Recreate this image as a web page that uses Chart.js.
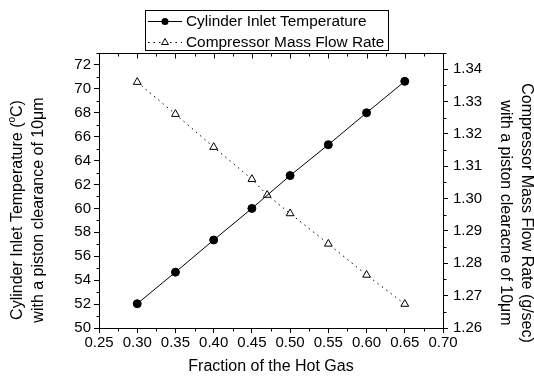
<!DOCTYPE html>
<html lang="en">
<head>
<meta charset="UTF-8" />
<title>Cylinder Inlet Temperature and Compressor Mass Flow Rate</title>
<script src="https://cdn.jsdelivr.net/npm/chart.js"></script>
<style>
  body { margin: 0; padding: 0; background: white; }
  #wrap { width: 534px; height: 381px; }
</style>
</head>
<body>
<div id="wrap"><canvas id="chart" width="534" height="381"></canvas></div>
<script>
  // data
  const fraction = [0.30, 0.35, 0.40, 0.45, 0.50, 0.55, 0.60, 0.65];
  const inletTemp = [52.03, 54.67, 57.36, 60.0, 62.75, 65.33, 68.0, 70.63];

  const flowFraction = [0.30, 0.35, 0.40, 0.45, 0.47, 0.50, 0.55, 0.60, 0.65];
  const massFlow = [1.3360, 1.3261, 1.3159, 1.3060, 1.3011, 1.2954, 1.2860, 1.2764, 1.2674];

  const xRange = [0.25, 0.70];
  const tempRange = [50, 73];
  const flowRange = [1.26, 1.345];

  const FONT = '"Liberation Sans", Arial, Helvetica, sans-serif';
  const DOTS = [1.5, 4];

  function pts(xs, ys) {
    return xs.map((x, i) => ({ x: x, y: ys[i] }));
  }

  function px(v) { return Math.round(v) + 0.5; }

  // frame, minor ticks, titles and legend
  const extras = {
    id: 'extras',
    afterDraw(chart) {
      const ctx = chart.ctx;
      const area = chart.chartArea;
      const sx = chart.scales.x, sy = chart.scales.y, sy1 = chart.scales.y1;
      const L = px(area.left), R = px(area.right), T = px(area.top), B = px(area.bottom);

      ctx.save();
      ctx.strokeStyle = '#000';
      ctx.fillStyle = '#000';
      ctx.lineWidth = 1;

      // top frame + inward ticks
      ctx.beginPath();
      ctx.moveTo(L, T); ctx.lineTo(R, T);
      for (let v = xRange[0]; v <= xRange[1] + 1e-9; v += 0.025) {
        const major = Math.abs(Math.round(v / 0.05) * 0.05 - v) < 1e-6;
        const xp = px(sx.getPixelForValue(v));
        ctx.moveTo(xp, T); ctx.lineTo(xp, T + (major ? 5 : 3));
        if (!major) { ctx.moveTo(xp, B); ctx.lineTo(xp, B + 3); }
      }
      // minor ticks left
      for (let v = tempRange[0] + 1; v <= tempRange[1]; v += 2) {
        const yp = px(sy.getPixelForValue(v));
        ctx.moveTo(L - 3, yp); ctx.lineTo(L, yp);
      }
      // minor ticks right
      for (let v = flowRange[0] + 0.005; v <= flowRange[1] + 1e-9; v += 0.01) {
        const yp = px(sy1.getPixelForValue(v));
        ctx.moveTo(R, yp); ctx.lineTo(R + 3, yp);
      }
      ctx.stroke();

      // axis titles
      ctx.font = '16px ' + FONT;
      ctx.textBaseline = 'middle';
      ctx.textAlign = 'center';
      ctx.fillText('Fraction of the Hot Gas', (area.left + area.right) / 2, 367);

      // left title (rotated)
      ctx.save();
      ctx.translate(18, 210);
      ctx.rotate(-Math.PI / 2);
      const a = 'Cylinder Inlet Temperature (', b = 'o', c = 'C)';
      ctx.font = '16px ' + FONT;
      const wa = ctx.measureText(a).width, wc = ctx.measureText(c).width;
      ctx.font = '10px ' + FONT;
      const wb = ctx.measureText(b).width;
      let xs = -(wa + wb + wc) / 2;
      ctx.textAlign = 'left';
      ctx.font = '16px ' + FONT;
      ctx.fillText(a, xs, 0); xs += wa;
      ctx.font = '10px ' + FONT;
      ctx.fillText(b, xs, -6); xs += wb;
      ctx.font = '16px ' + FONT;
      ctx.fillText(c, xs, 0);
      ctx.textAlign = 'center';
      ctx.fillText('with a piston clearance of 10\u03bcm', 0, 21);
      ctx.restore();

      // right title (rotated)
      ctx.save();
      ctx.translate(526, 213);
      ctx.rotate(Math.PI / 2);
      ctx.textAlign = 'center';
      ctx.font = '16px ' + FONT;
      ctx.fillText('Compressor Mass Flow Rate (g/sec)', 0, 0);
      ctx.fillText('with a piston clearacne of 10\u03bcm', 0, 21);
      ctx.restore();

      // legend box
      const ds = chart.data.datasets;
      ctx.strokeRect(145.5, 10.5, 243, 40);
      const rows = [21.5, 42.5];
      ds.forEach((d, i) => {
        const yy = rows[i];
        ctx.beginPath();
        ctx.setLineDash(d.borderDash || []);
        ctx.moveTo(148, yy); ctx.lineTo(182, yy);
        ctx.stroke();
        ctx.setLineDash([]);
        if (d.pointStyle === 'triangle') {
          const r = 4;
          ctx.beginPath();
          ctx.moveTo(165, yy - r);
          ctx.lineTo(165 + r * Math.sin(2 * Math.PI / 3), yy + r / 2);
          ctx.lineTo(165 - r * Math.sin(2 * Math.PI / 3), yy + r / 2);
          ctx.closePath();
          ctx.fillStyle = '#fff';
          ctx.fill();
          ctx.stroke();
        } else {
          ctx.beginPath();
          ctx.arc(165, yy, 3.5, 0, Math.PI * 2);
          ctx.fillStyle = '#000';
          ctx.fill();
        }
        ctx.fillStyle = '#000';
        ctx.font = '15.4px ' + FONT;
        ctx.textAlign = 'left';
        ctx.textBaseline = 'middle';
        ctx.fillText(d.label, 186, yy);
      });

      ctx.restore();
    }
  };

  const axisGrid = { drawOnChartArea: false, drawTicks: true, tickLength: 5, color: '#000', lineWidth: 1 };
  const axisBorder = { display: true, color: '#000', width: 1 };
  const tickFont = { family: FONT, size: 15 };

  new Chart(document.getElementById('chart'), {
    type: 'line',
    data: {
      datasets: [
        {
          label: 'Cylinder Inlet Temperature',
          data: pts(fraction, inletTemp),
          yAxisID: 'y',
          borderColor: '#000',
          borderWidth: 1,
          pointStyle: 'circle',
          pointRadius: 4,
          pointBackgroundColor: '#000',
          pointBorderColor: '#000',
          tension: 0
        },
        {
          label: 'Compressor Mass Flow Rate',
          data: pts(flowFraction, massFlow),
          yAxisID: 'y1',
          borderColor: '#000',
          borderWidth: 1,
          borderDash: DOTS,
          pointStyle: 'triangle',
          pointRadius: 4.5,
          pointBackgroundColor: '#fff',
          pointBorderColor: '#000',
          pointBorderWidth: 1,
          tension: 0
        }
      ]
    },
    options: {
      responsive: false,
      animation: false,
      layout: { padding: { top: 53, left: 0, right: 0, bottom: 0 } },
      plugins: {
        legend: { display: false },
        tooltip: { enabled: false }
      },
      scales: {
        x: {
          type: 'linear',
          position: 'bottom',
          min: xRange[0],
          max: xRange[1],
          afterFit: s => { s.height = 53; },
          grid: axisGrid,
          border: axisBorder,
          ticks: {
            stepSize: 0.05,
            autoSkip: false,
            maxRotation: 0,
            padding: 1,
            color: '#000',
            font: tickFont,
            callback: v => v.toFixed(2)
          }
        },
        y: {
          type: 'linear',
          position: 'left',
          min: tempRange[0],
          max: tempRange[1],
          afterFit: s => { s.width = 99; },
          grid: axisGrid,
          border: axisBorder,
          ticks: {
            stepSize: 2,
            includeBounds: false,
            padding: 3,
            color: '#000',
            font: tickFont
          }
        },
        y1: {
          type: 'linear',
          position: 'right',
          min: flowRange[0],
          max: flowRange[1],
          afterFit: s => { s.width = 91; },
          grid: axisGrid,
          border: axisBorder,
          ticks: {
            stepSize: 0.01,
            includeBounds: false,
            padding: 5,
            color: '#000',
            font: tickFont,
            callback: v => v.toFixed(2)
          }
        }
      }
    },
    plugins: [extras]
  });
</script>
</body>
</html>
